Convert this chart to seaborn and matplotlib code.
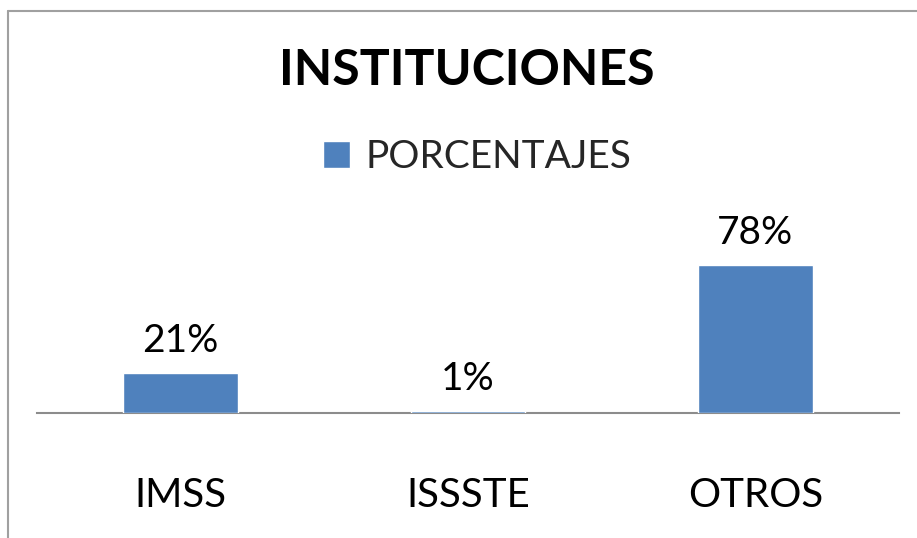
import matplotlib.pyplot as plt
import seaborn as sns
from matplotlib.lines import Line2D

categories = ['IMSS', 'ISSSTE', 'OTROS']
porcentajes = [21, 1, 78]
series_name = 'PORCENTAJES'
title = 'INSTITUCIONES'

sns.set_theme(style="white")
plt.rcParams['font.family'] = ['Lato', 'DejaVu Sans']

fig = plt.figure(figsize=(9.17, 5.38), dpi=100)
W, H = 917, 538
ax = fig.add_axes([37 / W, (H - 413) / H, (899 - 37) / W, (413 - 200) / H])

sns.barplot(x=categories, y=porcentajes, color='#4F81BD', width=0.4,
            label=series_name, ax=ax, saturation=1, zorder=3)
ax.set_xlim(-0.5, 2.5)
ax.set_ylim(0, (413 - 200) / 1.9)

for s in ['left', 'right', 'top']:
    ax.spines[s].set_visible(False)
ax.spines['bottom'].set_color('#8C8C8C')
ax.spines['bottom'].set_linewidth(1.5)
ax.spines['bottom'].set_zorder(1)
ax.set_yticks([])
ax.tick_params(axis='x', length=0, pad=46, labelsize=29, labelcolor='black')
ax.set_xlabel('')
ax.set_ylabel('')

ax.bar_label(ax.containers[0], labels=[f'{v}%' for v in porcentajes],
             padding=10, fontsize=28, color='black')

leg = ax.legend(loc='center', bbox_to_anchor=(477 / W, (H - 157) / H),
                bbox_transform=fig.transFigure, frameon=False, fontsize=28,
                handlelength=0.7, handleheight=0.7, handletextpad=0.4)

fig.text(467 / W, (H - 85) / H, title, ha='center', va='baseline',
         fontsize=36, fontweight='bold', color='black')

# outer chart frame
fig.add_artist(Line2D([8 / W, 8 / W], [0, (H - 11) / H], color='#A0A0A0', lw=1.5))
fig.add_artist(Line2D([8 / W, 1], [(H - 11) / H, (H - 11) / H], color='#A0A0A0', lw=1.5))

fig.savefig('out.png', dpi=100)
